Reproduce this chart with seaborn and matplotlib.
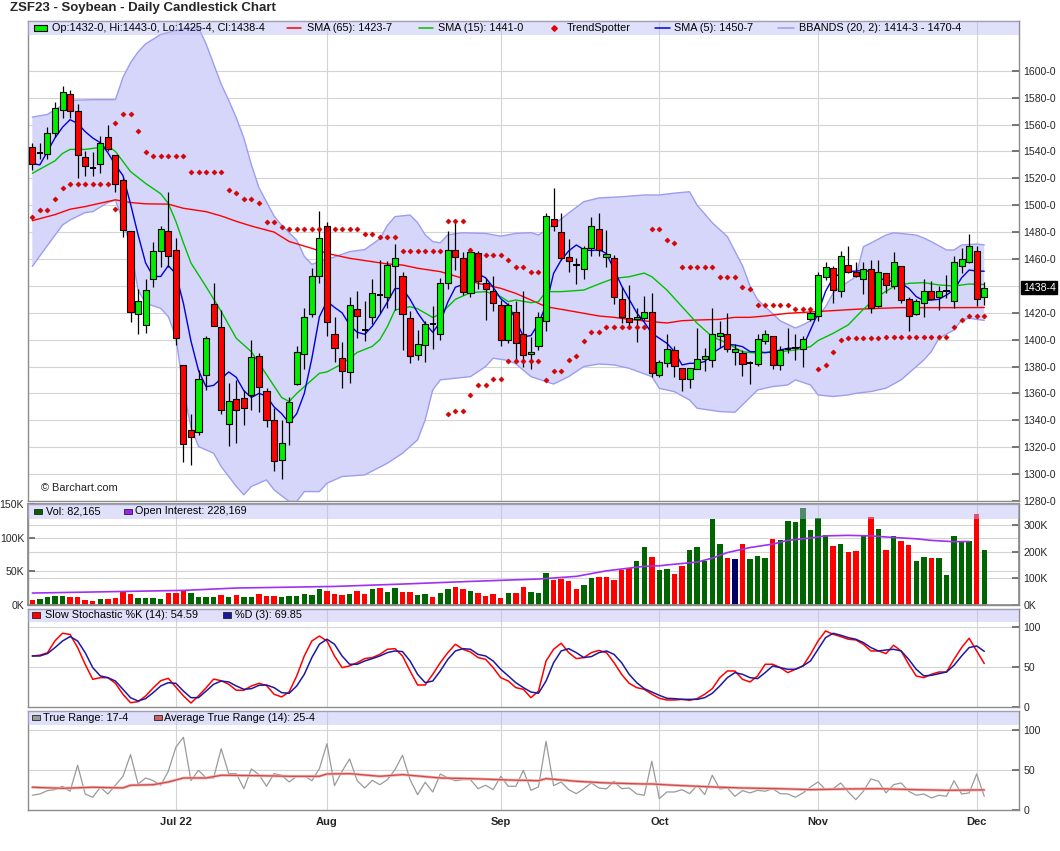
import numpy as np
import pandas as pd
import matplotlib
matplotlib.use("Agg")
import matplotlib.pyplot as plt
import matplotlib.transforms as mtransforms
from matplotlib.patches import Rectangle
from matplotlib.lines import Line2D
import seaborn as sns

# ---- data ----
holidays = ["2022-06-20", "2022-07-04", "2022-09-05", "2022-11-24"]
dates = pd.bdate_range("2022-06-03", "2022-12-02", freq="C", holidays=holidays)

opens = [1543, 1538.5, 1538, 1553.5, 1571, 1583, 1570, 1535.5, 1528, 1531,
         1550.5, 1537, 1518.5, 1481, 1419, 1411, 1445, 1466, 1481, 1467,
         1381, 1332.5, 1331, 1373.5, 1426.5, 1409.5, 1337, 1355.5, 1356.5, 1359,
         1387.5, 1361.5, 1340.5, 1310.5, 1338.5, 1367, 1389.5, 1419, 1447, 1484.5,
         1404.5, 1386, 1376, 1422.5, 1407, 1416.5, 1433.5, 1431.5, 1455, 1447,
         1416, 1388.5, 1396, 1411.5, 1404.5, 1442, 1467, 1461, 1434.5, 1464.5,
         1442, 1436.5, 1425.5, 1399.5, 1420.5, 1404, 1389.5, 1395, 1414, 1489.5,
         1480, 1461.5, 1456.5, 1452.5, 1468, 1482, 1461.5, 1460.5, 1430, 1416,
         1415.5, 1416, 1420.5, 1373.5, 1383, 1392, 1379, 1370.5, 1378.5, 1385.5,
         1385, 1402.5, 1404, 1391, 1390, 1382.5, 1382, 1399, 1402.5, 1381,
         1393, 1394, 1393, 1415.5, 1417.5, 1446.5, 1453, 1436, 1455.5, 1450,
         1445, 1452.5, 1425, 1449.5, 1440, 1455, 1430, 1419, 1427.5, 1436,
         1431.5, 1436.5, 1429, 1455, 1457.5, 1466, 1432]
highs = [1546, 1546, 1558, 1576.5, 1588.5, 1586, 1575.5, 1540.5, 1539.5, 1551.5,
         1560, 1537, 1520, 1481, 1437.5, 1445, 1472.5, 1484.5, 1510, 1475.5,
         1381, 1345, 1377.5, 1403, 1442.5, 1422, 1367.5, 1370, 1362.5, 1400,
         1390, 1364, 1349, 1340.5, 1357.5, 1395, 1423.5, 1453, 1495.5, 1487.5,
         1416.5, 1398.5, 1431.5, 1436, 1428.5, 1445, 1459.5, 1458.5, 1471, 1450,
         1421, 1407, 1414, 1425, 1445.5, 1480.5, 1489, 1465.5, 1468.5, 1466,
         1445.5, 1447, 1429.5, 1427, 1428.5, 1436, 1402, 1420.5, 1494.5, 1512.5,
         1494.5, 1474.5, 1461, 1469.5, 1491, 1494.5, 1481.5, 1463, 1439, 1441,
         1423.5, 1432.5, 1435, 1385, 1404, 1395, 1379, 1379, 1409, 1393.5,
         1423.5, 1414, 1419.5, 1396.5, 1392.5, 1384, 1404.5, 1407, 1402.5, 1395.5,
         1409, 1404.5, 1402.5, 1423.5, 1450, 1458, 1454.5, 1466, 1469.5, 1457.5,
         1457.5, 1459.5, 1459.5, 1449.5, 1465, 1455, 1432, 1430, 1445, 1443.5,
         1440, 1448, 1462, 1468.5, 1478.5, 1469.5, 1443]
lows = [1526, 1534, 1534, 1551, 1565, 1564.5, 1520, 1521.5, 1521.5, 1524,
        1540, 1510, 1476, 1413.5, 1404, 1405, 1439.5, 1454, 1454, 1396,
        1309, 1307, 1329, 1362.5, 1410, 1345, 1321, 1323.5, 1336.5, 1347.5,
        1346.5, 1335, 1302.5, 1296, 1321.5, 1366, 1378, 1417, 1442.5, 1403,
        1383.5, 1364, 1367.5, 1401, 1399, 1411.5, 1419.5, 1423.5, 1422, 1392,
        1383, 1385, 1383.5, 1393, 1399.5, 1437.5, 1452, 1433, 1431.5, 1437.5,
        1414.5, 1421, 1395, 1397.5, 1383.5, 1380, 1378, 1392.5, 1406.5, 1480.5,
        1459, 1450, 1441.5, 1445, 1462, 1462, 1454, 1426.5, 1412.5, 1409.5,
        1398, 1414.5, 1372.5, 1372, 1380, 1372.5, 1362, 1364, 1378, 1376.5,
        1380, 1393.5, 1391, 1381, 1373, 1367, 1380.5, 1397, 1378, 1377.5,
        1390, 1385, 1380, 1414, 1414, 1444.5, 1427.5, 1431.5, 1449.5, 1446.5,
        1434, 1420, 1424, 1434.5, 1437.5, 1427, 1406.5, 1418, 1417, 1429.5,
        1422, 1431, 1423.5, 1449.5, 1457, 1425, 1425.5]
closes = [1531, 1538.5, 1554, 1572, 1584.5, 1570, 1537, 1529.5, 1528, 1546.5,
          1541.5, 1515.5, 1481.5, 1420.5, 1428.5, 1437, 1466, 1482, 1462, 1401,
          1322.5, 1327.5, 1370.5, 1401, 1410, 1348, 1354.5, 1347.5, 1349, 1387,
          1365, 1340.5, 1310, 1323, 1353.5, 1390.5, 1416.5, 1447.5, 1475.5, 1413,
          1393.5, 1377, 1425.5, 1417.5, 1407, 1434.5, 1433.5, 1455.5, 1460.5, 1419,
          1388, 1396.5, 1412, 1411.5, 1442, 1467, 1461.5, 1435.5, 1465.5, 1443.5,
          1437.5, 1427.5, 1399.5, 1425.5, 1397.5, 1388.5, 1391, 1417, 1492, 1484.5,
          1461, 1458.5, 1455.5, 1468, 1484.5, 1467, 1463.5, 1431.5, 1416.5, 1413.5,
          1417, 1420.5, 1375.5, 1383.5, 1393, 1380.5, 1370.5, 1379, 1385.5, 1387.5,
          1404.5, 1405, 1393, 1393, 1382, 1382.5, 1400.5, 1404.5, 1381, 1392,
          1393, 1394, 1400.5, 1419.5, 1448, 1454, 1437, 1462, 1450.5, 1447,
          1452.5, 1423.5, 1450, 1440.5, 1457.5, 1429.5, 1417.5, 1428.5, 1436.5, 1430,
          1436, 1436.5, 1457.5, 1460, 1469.5, 1430, 1438.5]

sma65_idx = [0, 3, 5, 7, 9, 11, 13, 15, 18, 20, 23, 25, 27, 29, 32, 34, 37, 39, 42, 45,
             47, 49, 51, 54, 57, 59, 62, 64, 66, 68, 71, 73, 75, 77, 79, 82, 84, 86, 88, 91,
             93, 95, 97, 100, 103, 106, 109, 112, 115, 119, 122, 126]
sma65_val = [1488.5, 1493, 1497, 1499, 1501.5, 1504, 1502, 1501, 1500.8, 1497.7, 1495.2, 1492,
             1488, 1484.5, 1480, 1473, 1467.9, 1464.2, 1460.5, 1458, 1456.3, 1455.5, 1453.1,
             1450.6, 1445.6, 1441.9, 1438.2, 1434.4, 1429.5, 1424.5, 1421.6, 1419.6, 1417.6,
             1416.6, 1415.1, 1413.4, 1412.4, 1414.1, 1414.6, 1415.1, 1416.6, 1416.6, 1417.6,
             1419.6, 1420.6, 1421.6, 1422.6, 1423.3, 1423.8, 1423.8, 1423.8, 1423.9]

sma15_idx = [0, 3, 4, 5, 7, 9, 10, 11, 13, 15, 17, 18, 19, 20, 21, 23, 25, 27, 29, 31,
             33, 34, 35, 37, 38, 39, 41, 43, 45, 46, 47, 48, 50, 51, 53, 54, 56, 58, 60, 61,
             62, 63, 64, 66, 67, 68, 70, 73, 75, 77, 79, 81, 82, 84, 86, 88, 90, 92, 94, 96,
             99, 101, 103, 104, 106, 108, 110, 112, 114, 116, 118, 120, 122, 124, 126]
sma15_val = [1523.7, 1533, 1538.5, 1541.5, 1541.5, 1543, 1544, 1540, 1525, 1516.2, 1508.5,
             1501.4, 1488, 1472, 1457, 1439.4, 1421, 1401, 1391, 1374, 1357, 1354, 1360,
             1370, 1375, 1376, 1382, 1390.5, 1395, 1400, 1409.7, 1422, 1424.5, 1423, 1416.5,
             1419, 1430, 1435, 1435.7, 1434, 1432, 1428.3, 1429.5, 1427.5, 1428.3, 1435.7,
             1435.7, 1436.9, 1441.4, 1445.6, 1446.8, 1449.5, 1446.8, 1436.9, 1424.5, 1412.2,
             1402.2, 1397.3, 1391, 1389.9, 1391.1, 1392.3, 1394.8, 1399.3, 1404.7, 1411,
             1422.6, 1432.5, 1439.4, 1441.9, 1442.4, 1440.7, 1439.9, 1441.4, 1441]

sma5_val = [1531, 1530, 1540, 1550, 1558, 1563.6, 1560.8, 1554.7, 1550, 1546.5,
            1539, 1530, 1522, 1501, 1478, 1457, 1447, 1447, 1455, 1449,
            1427, 1399, 1377, 1365, 1366, 1371, 1376, 1372, 1362, 1357,
            1360, 1358, 1350, 1345, 1338, 1345, 1360, 1386, 1417, 1428.6,
            1424, 1420, 1411, 1405.5, 1404, 1410, 1418.5, 1428, 1438, 1438,
            1430, 1420, 1412, 1405.5, 1413, 1428, 1439, 1441, 1453, 1449,
            1446, 1439, 1430.5, 1425.8, 1414.6, 1402.2, 1403, 1412, 1425.8, 1449.3,
            1459.2, 1466, 1470.4, 1467, 1466.2, 1467, 1464, 1452, 1440, 1430,
            1420, 1413, 1404.7, 1401, 1397.3, 1391.1, 1381.2, 1382.4, 1382.4, 1383.7,
            1390, 1393.5, 1396.5, 1396, 1394.8, 1391.1, 1391, 1390.4, 1391, 1392.3,
            1393.6, 1393.6, 1394.8, 1407.2, 1420, 1436, 1446, 1449.3, 1450.6, 1451,
            1451.5, 1450.6, 1446, 1444, 1443.2, 1441.9, 1438.2, 1432, 1429, 1429.5,
            1430, 1433.2, 1437, 1446, 1451.8, 1451, 1450.9]

bb_up_idx = [0, 2, 5, 8, 11, 12, 13, 14, 15, 17, 19, 21, 22, 23, 24, 25, 26, 27, 28, 29,
             30, 32, 33, 35, 36, 37, 38, 40, 42, 44, 46, 47, 48, 50, 51, 52, 53, 54, 55, 57,
             60, 62, 64, 66, 67, 69, 71, 73, 75, 78, 81, 83, 85, 87, 88, 90, 92, 94, 95, 96,
             97, 99, 101, 102, 104, 105, 106, 107, 109, 110, 111, 113, 114, 117, 118, 119, 121, 122,
             123, 125, 126]
bb_up_val = [1565.5, 1567.5, 1578, 1578.5, 1578.5, 1595, 1606, 1614, 1620, 1627, 1630, 1632,
             1632, 1620, 1605, 1590, 1578, 1565, 1550, 1530, 1513, 1492, 1485, 1474, 1462, 1456,
             1458, 1461.5, 1465.5, 1467, 1475, 1485, 1491.5, 1492.7, 1487, 1478, 1473, 1472,
             1478, 1479.5, 1479, 1477, 1479, 1479.6, 1477.8, 1485.3, 1494.2, 1502.6, 1505.4,
             1506.3, 1507.6, 1507.6, 1509, 1510, 1500, 1487, 1476.6, 1455, 1440, 1429.6, 1424.5,
             1414, 1408.7, 1411, 1417.1, 1424.5, 1434.7, 1439.4, 1446.8, 1469.1, 1471.9, 1477.8,
             1479.5, 1477.8, 1475.6, 1472.9, 1466.7, 1466.7, 1470.4, 1471.1, 1470.5]
bb_lo_idx = [0, 2, 4, 5, 7, 8, 10, 11, 12, 13, 14, 15, 17, 18, 19, 20, 21, 22, 24, 25,
             27, 28, 29, 31, 32, 34, 35, 36, 38, 39, 41, 44, 47, 49, 51, 52, 53, 54, 56, 58,
             60, 61, 63, 64, 66, 68, 69, 71, 73, 75, 77, 79, 82, 83, 85, 87, 88, 91, 93, 94,
             96, 98, 100, 101, 103, 104, 106, 108, 109, 111, 113, 115, 116, 118, 119, 120, 122, 123,
             124, 126]
bb_lo_val = [1454.5, 1470, 1485.3, 1489, 1494.5, 1495.2, 1502, 1503.9, 1488, 1469.2, 1437,
             1427, 1423.3, 1417.1, 1402, 1362.6, 1335, 1320.5, 1315.5, 1305.6, 1290.8, 1284.6,
             1290.8, 1295.7, 1288.3, 1279.6, 1279.6, 1287, 1287, 1293.2, 1298.2, 1299.4, 1308.1,
             1315.5, 1325.5, 1340.3, 1362.6, 1370.1, 1371.3, 1372.5, 1380, 1386.2, 1384.5, 1382,
             1372.5, 1368.8, 1367, 1372.5, 1380, 1381.9, 1381.2, 1378.7, 1372.5, 1363.8, 1361.3,
             1355.1, 1349, 1346.5, 1346, 1351.5, 1362.6, 1365.1, 1366.3, 1370.1, 1366.3, 1358.9,
             1357.7, 1358.9, 1360.1, 1361.4, 1363.9, 1370.1, 1375, 1384.9, 1391.1, 1401, 1407.2,
             1414.7, 1415.9, 1414.3]

ts_idx = [0, 1, 2, 3, 4, 5, 6, 7, 8, 9, 10, 11, 11, 12, 13, 14, 15, 16, 17, 18, 19, 20,
          21, 22, 23, 24, 25, 26, 27, 28, 29, 30, 31, 32, 33, 34, 35, 36, 37, 38, 39, 40,
          41, 42, 43, 44, 45, 46, 47, 48, 49, 50, 51, 52, 53, 54, 55, 56, 57, 58, 59, 60,
          61, 62, 63, 64, 65, 66, 67, 82, 83, 84, 85, 86, 87, 88, 89, 90, 91, 92, 93, 94,
          95, 96, 97, 98, 99, 100, 101, 102, 103,
          55, 56, 57, 58, 59, 60, 61, 62, 63, 64, 65, 66, 67, 68, 69, 70, 71, 72, 73, 74,
          75, 76, 77, 78, 79, 80, 81, 104, 105, 106, 107, 108, 109, 110, 111, 112, 113, 114,
          115, 116, 117, 118, 119, 120, 121, 122, 123, 124, 125, 126]
ts_val = [1491, 1496.5, 1496.5, 1504.5, 1513, 1515.5, 1515.5, 1515.5, 1515.5, 1515.5, 1515.5,
          1497.5, 1561.5, 1568, 1568, 1555.5, 1539.5, 1536.5, 1536.5, 1536.5, 1536.5, 1536.5,
          1525, 1525, 1525, 1525, 1525, 1511.5, 1509, 1504.5, 1504.5, 1501.5, 1487.5, 1487.5,
          1483.5, 1482.5, 1482.5, 1482.5, 1482.5, 1482.5, 1482.5, 1482.5, 1482.5, 1482.5,
          1482.5, 1478.5, 1478.5, 1476, 1476, 1476, 1466, 1466, 1466, 1466, 1466, 1466,
          1488.5, 1488.5, 1488.5, 1467, 1463, 1463, 1463, 1463, 1459.5, 1454, 1454, 1450.5,
          1450.5, 1482, 1482, 1474, 1472, 1454, 1454, 1454, 1454, 1454, 1446.5, 1446.5,
          1446.5, 1439.5, 1437.5, 1425.5, 1425.5, 1425.5, 1425.5, 1425.5, 1422.5, 1422.5,
          1422.5,
          1344.5, 1347, 1347, 1359, 1366.5, 1366.5, 1371, 1371, 1384, 1384, 1384, 1384, 1384,
          1370, 1377, 1377, 1384.5, 1388, 1399, 1405.5, 1405.5, 1409.5, 1409.5, 1409.5,
          1409.5, 1409.5, 1409.5, 1378.5, 1381, 1391, 1399.5, 1401, 1401, 1401, 1401, 1401,
          1402, 1402, 1402, 1402, 1402, 1402, 1402, 1402, 1402, 1409.5, 1414.5, 1417.5,
          1417.5, 1417.5]

volume = [7500, 9000, 12000, 13000, 13000, 11000, 11500, 7000, 5500, 8500,
          8500, 10000, 19500, 16000, 10000, 10000, 10000, 8500, 17500, 17500,
          20500, 17000, 11500, 11500, 11500, 15000, 11500, 14500, 11500, 11500,
          16500, 13000, 13000, 12000, 13000, 13000, 15500, 14500, 23500, 20500,
          16500, 15000, 16000, 21000, 16000, 23500, 25000, 18500, 25000, 19000,
          19000, 14000, 15500, 11500, 17000, 24000, 26000, 23000, 20000, 17000,
          13000, 16000, 10500, 18000, 17500, 26500, 18500, 17500, 47000, 37500,
          39000, 36000, 24000, 29500, 40000, 41000, 42000, 37500, 51000, 54000,
          64500, 86000, 71500, 51000, 52500, 45000, 57000, 81000, 86500, 65000,
          127000, 91000, 70000, 68500, 91000, 67500, 72500, 70000, 98500, 96500,
          124500, 122500, 143500, 112000, 128500, 104000, 88000, 90000, 78000, 79500,
          102000, 130000, 113500, 81000, 102000, 95000, 89500, 65000, 71500, 70000,
          69000, 43500, 103000, 93500, 95000, 135000, 82165]
oi_idx = [0, 12, 20, 27, 40, 49, 58, 67, 72, 76, 81, 83, 85, 88, 90, 92, 95, 98, 100, 103,
          105, 108, 111, 114, 117, 119, 122, 124]
oi_val = [44000, 50000, 54000, 63000, 69000, 78000, 88000, 97000, 107000, 128000, 145000,
          147000, 153000, 161000, 176000, 197000, 216000, 229000, 243000, 252000, 260000,
          262000, 260000, 254000, 249000, 243000, 238000, 239000]

stoch_k = [64, 65, 68, 83, 92.5, 91, 74.5, 53.5, 34.7, 36.8,
           36.8, 29.7, 15.9, 5.4, 6.7, 13.8, 24, 33, 36, 25,
           14, 5, 14, 24, 35, 33, 28.5, 21, 21, 26.4,
           29.7, 27, 16, 12.6, 19, 39, 64, 82.8, 89, 82.8,
           64, 49.4, 51.5, 55.6, 60.7, 62, 66, 72.4, 73.2, 64,
           45.2, 27.6, 27.6, 41, 55.6, 68.2, 78.7, 72.4, 69, 62,
           59.8, 49.4, 36.8, 32.6, 24.3, 22.2, 11.7, 20, 57.7, 72.4,
           80, 68.2, 60.7, 62, 68.2, 71, 68.2, 55.6, 41, 29.7,
           24.3, 22.2, 16, 10.9, 8.8, 8.8, 9.6, 8.4, 10.5, 16,
           23, 36.8, 45.2, 45.2, 34.7, 31.4, 39, 53.6, 53.6, 49.4,
           43.1, 47.3, 51.5, 66, 82.8, 95.4, 91.2, 88.3, 85, 84.1,
           78.7, 70.3, 70.3, 67, 77.4, 70.3, 53.6, 38.9, 36.8, 41,
           43.9, 43.9, 59.8, 74.5, 86.2, 70.3, 54.59]
stoch_d = [64, 64, 67, 74.5, 82.8, 88.3, 82.8, 68.2, 49.4, 39,
           36.8, 32.6, 22.2, 11.7, 7.5, 10.5, 18, 26.4, 30.5, 29.7,
           20, 11.7, 11.7, 20, 28.5, 32.6, 31.4, 26.4, 22.2, 23,
           27.2, 27.6, 24.3, 18, 17.2, 26.4, 41, 62, 78.7, 85,
           78.7, 64, 53.6, 53.6, 57.7, 60.7, 64, 68.2, 70.3, 69.5,
           57.7, 41, 30.5, 32.6, 45.2, 59.8, 70.3, 73.2, 72.4, 66,
           64, 57.7, 47.3, 39, 30.5, 24.3, 18.8, 17.2, 32.6, 55.6,
           70.3, 73.2, 68.2, 62, 63.2, 68.2, 70.3, 66, 55.6, 41,
           30.5, 23, 18.8, 14.6, 10.9, 10.5, 9.6, 9.6, 9.6, 11.7,
           17.2, 26.4, 36.8, 43.1, 41, 36.8, 35.6, 43.1, 51.5, 49.4,
           47.3, 47.3, 51.5, 57.7, 72.4, 87, 92.5, 90, 87, 85,
           80.8, 74.5, 70.3, 71.5, 72.4, 70.3, 59.8, 47.3, 39, 39.7,
           41.8, 43.9, 52.3, 64, 74.5, 76.6, 69.85]

true_range = [18.8, 20.4, 24.6, 25.8, 30, 23.8, 56.3, 20.4, 16.3, 28.8,
              20.4, 31.3, 42.5, 69.6, 32.9, 40.4, 37.1, 31.3, 48.8, 78.8,
              91.3, 37.1, 50, 40.4, 40.4, 77, 45.8, 45.8, 27, 51.7,
              44.6, 30, 45.8, 43.8, 35.4, 42.5, 43.3, 37, 52, 83.3,
              30.8, 48.8, 64.2, 37, 27.9, 37.5, 32, 38.3, 50.8, 68.8,
              38.3, 19.6, 35, 22.9, 45.4, 40.4, 37, 38.3, 38.3, 27,
              31.3, 25.8, 42.5, 30, 30, 50, 25, 29.2, 86.3, 30.8,
              35.4, 25.8, 20.8, 27, 34.2, 27.9, 26.7, 36.3, 27, 27.9,
              20.4, 18.8, 61.3, 14.6, 22.9, 22.9, 25.8, 20.8, 31.3, 19.6,
              43.8, 26.7, 27.9, 17.5, 24.6, 21.7, 25, 23.8, 27, 20.8,
              20.4, 16.3, 21.7, 29.2, 35.4, 25.8, 27, 34.2, 22.9, 13.3,
              23.8, 39.2, 36.3, 21.7, 32, 34.2, 23.8, 18.8, 20.4, 15.4,
              18.8, 17.5, 37, 20.4, 21.7, 45.4, 17.5]
atr_idx = [0, 4, 8, 12, 13, 16, 18, 20, 23, 25, 30, 34, 38, 39, 42, 46, 49, 54, 58, 63,
           67, 68, 72, 76, 81, 82, 85, 90, 94, 99, 103, 108, 112, 117, 121, 126]
atr_val = [28.8, 27.5, 28.8, 28, 31.3, 32, 35.4, 40.4, 40.4, 43.8, 43.3, 42.5, 42.5, 45.4,
           45.8, 42.5, 44.6, 40.4, 39.6, 37.9, 37, 39.6, 36.3, 34.2, 32.9, 32.9, 31.3, 29.2,
           27.9, 27, 25.8, 26.7, 27, 25.8, 25, 25.5]

month_labels = ["Jul 22", "Aug", "Sep", "Oct", "Nov", "Dec"]

# ---- layout ----
sns.set_theme(style="white")
plt.rcParams["font.family"] = ["Liberation Sans", "DejaVu Sans"]

FIG_W, FIG_H = 1060, 851
LEFT_PX, RIGHT_PX = 28.3, 1019.0
fig = plt.figure(figsize=(FIG_W / 100, FIG_H / 100), dpi=100)
fig.patch.set_facecolor("white")

GRID = "#d4d4d4"
SPINE = "#8c8c8c"
FS = 7.6


def make_axes(top_px, bottom_px):
    ax = fig.add_axes([LEFT_PX / FIG_W, 1 - bottom_px / FIG_H,
                       (RIGHT_PX - LEFT_PX) / FIG_W, (bottom_px - top_px) / FIG_H])
    for s in ax.spines.values():
        s.set_color(SPINE)
        s.set_linewidth(1)
    return ax


def fx(px):
    return (px - LEFT_PX) / (RIGHT_PX - LEFT_PX)


def legend_band(ax, frac):
    ax.add_patch(Rectangle((0, 1 - frac), 1, frac, transform=ax.transAxes,
                           facecolor="#b9b9f5", alpha=0.44, edgecolor="none", zorder=8))
    return 1 - frac / 2


def swatch(ax, px, yc, color, w=8):
    ax.add_patch(Rectangle((fx(px), yc - 0.028), fx(px + w) - fx(px), 0.056,
                           transform=ax.transAxes, facecolor=color, edgecolor="#222222",
                           linewidth=0.6, zorder=9, clip_on=False))


def label(ax, px, yc, text):
    ax.text(fx(px), yc, text, transform=ax.transAxes, fontsize=7.8, va="center",
            ha="left", color="black", zorder=9)


x = np.arange(len(closes))
month_pos = [int(np.argmax(dates.month == m)) for m in (7, 8, 9, 10, 11, 12)]
XLIM = (-0.53, 130.6)

ax_p = make_axes(21, 501)
ax_v = make_axes(504, 604.7)
ax_s = make_axes(608.7, 707)
ax_t = make_axes(710.7, 810.3)

for ax in (ax_p, ax_v, ax_s, ax_t):
    ax.set_xlim(*XLIM)
    for m in month_pos:
        ax.axvline(m, color=GRID, lw=0.8, zorder=0)
    ax.set_xticks(month_pos)
    ax.tick_params(axis="x", length=0, labelbottom=False)
    ax.yaxis.tick_right()
    ax.tick_params(axis="y", direction="in", length=5, color="#666666",
                   labelsize=FS, pad=3, left=False)

# ---- price panel ----
ax_p.set_ylim(1280, 1637)
for v in range(1280, 1601, 20):
    ax_p.axhline(v, color=GRID, lw=0.8, zorder=0)
ticks = [v for v in range(1280, 1601, 20) if v != 1440]
ax_p.set_yticks(ticks)
ax_p.set_yticklabels([f"{v}-0" for v in ticks])

poly_x = np.r_[bb_up_idx, bb_lo_idx[::-1]]
poly_y = np.r_[bb_up_val, bb_lo_val[::-1]]
ax_p.fill(poly_x, poly_y, color="#d6d6fa", zorder=1, lw=0)
sns.lineplot(x=bb_up_idx, y=bb_up_val, ax=ax_p, color="#9d9df0", lw=1, zorder=2)
sns.lineplot(x=bb_lo_idx, y=bb_lo_val, ax=ax_p, color="#9d9df0", lw=1, zorder=2)
sns.lineplot(x=sma65_idx, y=sma65_val, ax=ax_p, color="#ff0000", lw=1, zorder=3)
sns.lineplot(x=sma15_idx, y=sma15_val, ax=ax_p, color="#00c000", lw=1, zorder=3)
sns.lineplot(x=x, y=sma5_val, ax=ax_p, color="#0000dd", lw=1, zorder=3)

o = np.array(opens, float)
h = np.array(highs, float)
l = np.array(lows, float)
c = np.array(closes, float)
up, dn, flat = c > o, c < o, c == o
ax_p.vlines(x, l, h, color="black", lw=0.9, zorder=4)
ax_p.bar(x[up], (c - o)[up], bottom=o[up], width=0.8, color="#00ee00",
         edgecolor="black", linewidth=0.8, zorder=5)
ax_p.bar(x[dn], (o - c)[dn], bottom=c[dn], width=0.8, color="#ff0000",
         edgecolor="black", linewidth=0.8, zorder=5)
ax_p.hlines(c[flat], x[flat] - 0.42, x[flat] + 0.42, color="black", lw=1.4, zorder=5)

sns.scatterplot(x=ts_idx, y=ts_val, ax=ax_p, marker="D", s=7, color="#e00000",
                edgecolor="#b00000", linewidth=0.3, zorder=6)

ax_p.text(fx(41), (501 - 488) / 480, "\u00a9 Barchart.com", transform=ax_p.transAxes,
          fontsize=7.9, color="#222222", va="center", ha="left")

tr = mtransforms.blended_transform_factory(ax_p.transAxes, ax_p.transData)
ax_p.text(1.004, closes[-1], "1438-4", transform=tr, fontsize=FS, color="white",
          va="center", ha="left",
          bbox=dict(boxstyle="square,pad=0.15", facecolor="black", edgecolor="black"))

yc = legend_band(ax_p, 14 / 480)
ax_p.add_patch(Rectangle((fx(34), yc - 0.0065), fx(47) - fx(34), 0.013, transform=ax_p.transAxes,
                         facecolor="#00ee00", edgecolor="black", linewidth=0.8, zorder=9))
label(ax_p, 52, yc, "Op:1432-0, Hi:1443-0, Lo:1425-4, Cl:1438-4")
for (x0, x1, col) in [(287, 301, "#ff0000"), (419, 433, "#00c000"), (655, 670, "#0000dd"),
                      (778, 794, "#9d9df0")]:
    ax_p.add_line(Line2D([fx(x0), fx(x1)], [yc, yc], transform=ax_p.transAxes,
                         color=col, lw=1.1, zorder=9))
ax_p.add_line(Line2D([fx(553.7)], [yc], transform=ax_p.transAxes, marker="D",
                     markersize=2.8, color="#e00000", lw=0, zorder=9))
label(ax_p, 307, yc, "SMA (65): 1423-7")
label(ax_p, 438, yc, "SMA (15): 1441-0")
label(ax_p, 567, yc, "TrendSpotter")
label(ax_p, 674, yc, "SMA (5): 1450-7")
label(ax_p, 799, yc, "BBANDS (20, 2): 1414-3 - 1470-4")

# ---- volume panel ----
OI_TOP = 380500
ax_v.set_ylim(0, 150000)
ax_v.yaxis.tick_left()
ax_v.tick_params(axis="y", direction="in", length=5, labelsize=FS, pad=3,
                 left=True, right=False, labelleft=True, labelright=False)
ax_v.set_yticks([0, 50000, 100000, 150000])
ax_v.set_yticklabels(["0K", "50K", "100K", "150K"])
for v in (50000, 100000):
    ax_v.axhline(v, color=GRID, lw=0.8, zorder=0)
for v in (100000, 200000, 300000):
    ax_v.axhline(v / OI_TOP * 150000, color=GRID, lw=0.8, zorder=0)

diff = np.diff(c, prepend=np.nan)
vcolors = np.where(diff > 0, "#006400", np.where(diff < 0, "#ff0000", "#000066"))
vcolors[0] = "#ff0000"
ax_v.bar(x, volume, width=0.72, color=vcolors, linewidth=0, zorder=2)

ax_oi = ax_v.twinx()
ax_oi.set_xlim(*XLIM)
ax_oi.set_ylim(0, OI_TOP)
for s in ax_oi.spines.values():
    s.set_color(SPINE)
ax_oi.set_yticks([0, 100000, 200000, 300000])
ax_oi.set_yticklabels(["0K", "100K", "200K", "300K"])
ax_oi.tick_params(axis="y", direction="in", length=5, color="#666666", labelsize=FS, pad=3)
sns.lineplot(x=oi_idx, y=oi_val, ax=ax_oi, color="#a030f0", lw=1.2, zorder=3)
ax_oi.set_ylabel("")
ax_v.set_ylabel("")

yc = legend_band(ax_oi, 14.7 / 100.7)
swatch(ax_oi, 34, yc, "#006400")
label(ax_oi, 46, yc, "Vol: 82,165")
swatch(ax_oi, 124, yc, "#a020f0")
label(ax_oi, 135, yc, "Open Interest: 228,169")

# ---- stochastic panel ----
ax_s.set_ylim(0, 123.3)
for v in (50, 100):
    ax_s.axhline(v, color=GRID, lw=0.8, zorder=0)
ax_s.set_yticks([0, 50, 100])
ax_s.set_yticklabels(["0", "50", "100"])
sns.lineplot(x=x, y=stoch_k, ax=ax_s, color="#ff0000", lw=1.1, zorder=3)
sns.lineplot(x=x, y=stoch_d, ax=ax_s, color="#1a1aa0", lw=1.1, zorder=3)
yc = legend_band(ax_s, 13 / 98.3)
swatch(ax_s, 32, yc, "#ff0000")
label(ax_s, 45, yc, "Slow Stochastic %K (14): 54.59")
swatch(ax_s, 223, yc, "#1a1aa0")
label(ax_s, 235, yc, "%D (3): 69.85")

# ---- true range panel ----
ax_t.set_ylim(0, 124.5)
for v in (50, 100):
    ax_t.axhline(v, color=GRID, lw=0.8, zorder=0)
ax_t.set_yticks([0, 50, 100])
ax_t.set_yticklabels(["0", "50", "100"])
sns.lineplot(x=x, y=true_range, ax=ax_t, color="#9a9a9a", lw=0.9, zorder=3)
sns.lineplot(x=atr_idx, y=atr_val, ax=ax_t, color="#f2b0b0", lw=2.0, zorder=3)
sns.lineplot(x=atr_idx, y=atr_val, ax=ax_t, color="#d04848", lw=0.9, zorder=4)
yc = legend_band(ax_t, 14 / 99.6)
swatch(ax_t, 32, yc, "#9a9a9a")
label(ax_t, 43, yc, "True Range: 17-4")
swatch(ax_t, 154, yc, "#d06060")
label(ax_t, 164, yc, "Average True Range (14): 25-4")
ax_t.set_xticklabels(month_labels)
ax_t.tick_params(axis="x", labelbottom=True, length=0, pad=5, labelsize=8)
for t in ax_t.get_xticklabels():
    t.set_fontweight("bold")

for ax in (ax_p, ax_v, ax_s, ax_t):
    ax.set_xlabel("")
    ax.set_ylabel("")

fig.text(10 / FIG_W, 1 - 8.5 / FIG_H, "ZSF23 - Soybean - Daily Candlestick Chart",
         fontsize=9.5, fontweight="bold", va="center", ha="left")

fig.savefig("out.png", dpi=100, facecolor="white")
